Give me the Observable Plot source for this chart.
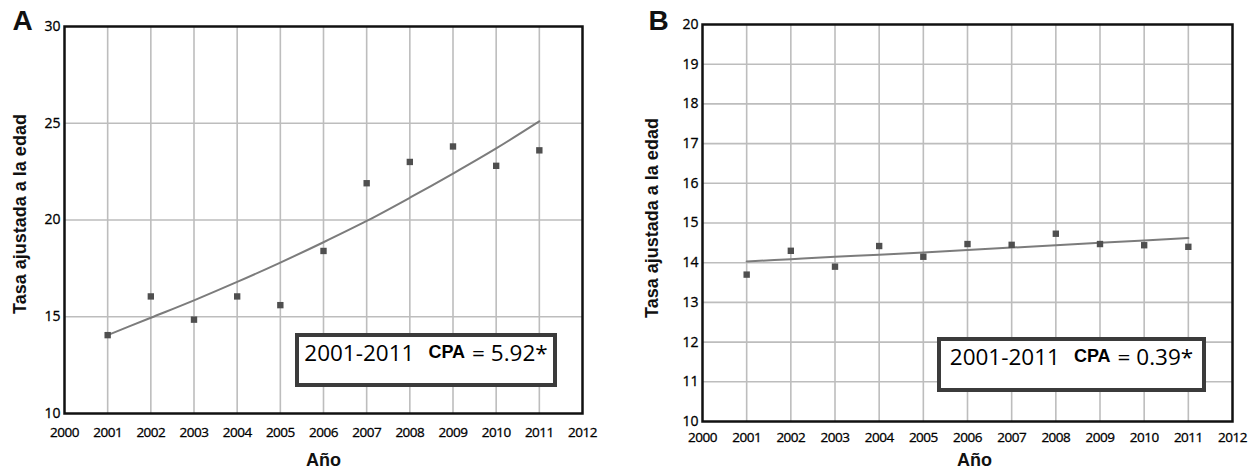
<!DOCTYPE html>
<html>
<head>
<meta charset="utf-8">
<script src="https://cdn.jsdelivr.net/npm/d3@7"></script>
<script src="https://cdn.jsdelivr.net/npm/@observablehq/plot@0.6"></script>
<style>
  html, body { margin: 0; padding: 0; background: #fff; }
  #wrap { position: relative; width: 1255px; height: 470px; overflow: hidden; }
  .panel { position: absolute; top: 0; height: 470px; }
  .panel svg { display: block; background: #fff; }
  .panel svg g[aria-label="x-axis tick label"] { font-size: 13.5px; letter-spacing: -0.5px; stroke: #000; stroke-width: 0.3px; }
  .panel svg g[aria-label="y-axis tick label"] { font-size: 14px; stroke: #000; stroke-width: 0.3px; }
  .cpa-box {
    position: absolute; box-sizing: border-box; border: 4px solid #3b3b3b; background: #fff;
    display: flex; align-items: baseline; justify-content: center;
    font-family: "Open Sans", sans-serif; font-size: 22.5px; color: #000; white-space: nowrap;
  }
  .cpa-box .cpa { font-family: "Liberation Sans", Arial, sans-serif; font-weight: bold; font-size: 18px;
    position: relative; top: -3px; margin: 0 7px 0 14px; }
</style>
</head>
<body>
<div id="wrap">
  <div class="panel" id="panelA" style="left:0;width:627px"></div>
  <div class="panel" id="panelB" style="left:627px;width:628px"></div>
</div>
<script>
// ---------- data ----------
const years = [2001, 2002, 2003, 2004, 2005, 2006, 2007, 2008, 2009, 2010, 2011];
const xTicks = [2000, 2001, 2002, 2003, 2004, 2005, 2006, 2007, 2008, 2009, 2010, 2011, 2012];

// Panel A
const rateA = [14.05, 16.05, 14.85, 16.05, 15.6, 18.4, 21.9, 23.0, 23.8, 22.8, 23.6];
const fitA  = [14.05, 14.95, 15.85, 16.8, 17.8, 18.85, 19.95, 21.15, 22.4, 23.7, 25.1];
const yTicksA = [10, 15, 20, 25, 30];
const periodA = "2001-2011";
const cpaValueA = "5.92*";

// Panel B
const rateB = [13.7, 14.3, 13.9, 14.42, 14.15, 14.47, 14.45, 14.73, 14.47, 14.44, 14.4];
const fitB  = [14.03, 14.09, 14.15, 14.2, 14.26, 14.32, 14.38, 14.44, 14.5, 14.56, 14.62];
const yTicksB = [10, 11, 12, 13, 14, 15, 16, 17, 18, 19, 20];
const periodB = "2001-2011";
const cpaValueB = "0.39*";

const yLabel = "Tasa ajustada a la edad";
const xLabel = "Año";

function panel(opts) {
  const pts = years.map((yr, i) => ({year: yr, v: opts.rate[i]}));
  const fit = years.map((yr, i) => ({year: yr, v: opts.fit[i]}));
  const yDomain = [d3.min(opts.yTicks), d3.max(opts.yTicks)];
  const innerY = opts.yTicks.filter(t => t !== yDomain[0] && t !== yDomain[1]);
  return Plot.plot({
    width: opts.width, height: 470,
    marginLeft: opts.m[3], marginRight: opts.m[1], marginTop: opts.m[0], marginBottom: opts.m[2],
    style: {fontFamily: "'Open Sans', sans-serif", color: "#111", background: "#fff"},
    x: {domain: [2000, 2012]},
    y: {domain: yDomain},
    marks: [
      Plot.gridX(years, {stroke: "#bdbdbd", strokeOpacity: 1, strokeWidth: 1.6}),
      Plot.gridY(innerY, {stroke: "#bdbdbd", strokeOpacity: 1, strokeWidth: 1.6}),
      Plot.axisX(xTicks, {tickSize: 0, tickPadding: opts.xPad, tickFormat: "d", fontSize: 13.5, label: null,
        fill: "#000"}),
      Plot.axisY(opts.yTicks, {tickSize: 0, tickPadding: 4, fontSize: 14, label: null, fill: "#000"}),
      Plot.line(fit, {x: "year", y: "v", stroke: "#7c7c7c", strokeWidth: 2, curve: "monotone-x"}),
      Plot.dot(pts, {x: "year", y: "v", symbol: "square", r: 3.6, fill: "#4f4f4f", stroke: "none"}),
      Plot.frame({stroke: "#111", strokeWidth: 2.5}),
      Plot.text([yLabel], {frameAnchor: "left", rotate: -90, dx: opts.yLab[0], dy: opts.yLab[1],
        fontSize: 18, fontWeight: "bold", fontFamily: "'Liberation Sans', Arial, sans-serif", fill: "#111",
        lineAnchor: "middle", textAnchor: "middle"}),
      Plot.text([xLabel], {frameAnchor: "bottom", dx: opts.xLab[0], dy: opts.xLab[1],
        fontSize: 18, fontWeight: "bold", fontFamily: "'Liberation Sans', Arial, sans-serif", fill: "#111",
        lineAnchor: "middle"}),
      Plot.text([opts.letter], {frameAnchor: "top-left", dx: opts.letterPos[0], dy: opts.letterPos[1],
        fontSize: 28, fontWeight: "bold", fontFamily: "'Liberation Sans', Arial, sans-serif", fill: "#111",
        lineAnchor: "middle", textAnchor: "middle"})
    ]
  });
}

const plotA = panel({
  width: 627, m: [26, 45, 57, 64], rate: rateA, fit: fitA, yTicks: yTicksA, xPad: 14,
  yLab: [-44, -6], xLab: [0, 47], letter: "A", letterPos: [-42, -5]
});
document.getElementById("panelA").appendChild(plotA);

const plotB = panel({
  width: 628, m: [24, 23, 49, 75], rate: rateB, fit: fitB, yTicks: yTicksB, xPad: 11,
  yLab: [-50, -5], xLab: [7, 39], letter: "B", letterPos: [-44, -3]
});
document.getElementById("panelB").appendChild(plotB);

function addBox(parentId, left, top, w, h, period, val) {
  const box = document.createElement("div");
  box.className = "cpa-box";
  Object.assign(box.style, {left: left + "px", top: top + "px", width: w + "px", height: h + "px"});
  const a = document.createElement("span"); a.textContent = period;
  const b = document.createElement("span"); b.className = "cpa"; b.textContent = "CPA";
  const c = document.createElement("span"); c.textContent = "= " + val;
  box.append(a, b, c);
  document.getElementById(parentId).appendChild(box);
}
addBox("panelA", 295, 333, 262, 54, periodA, cpaValueA);
addBox("panelB", 310, 337, 269, 55, periodB, cpaValueB);
</script>
</body>
</html>
